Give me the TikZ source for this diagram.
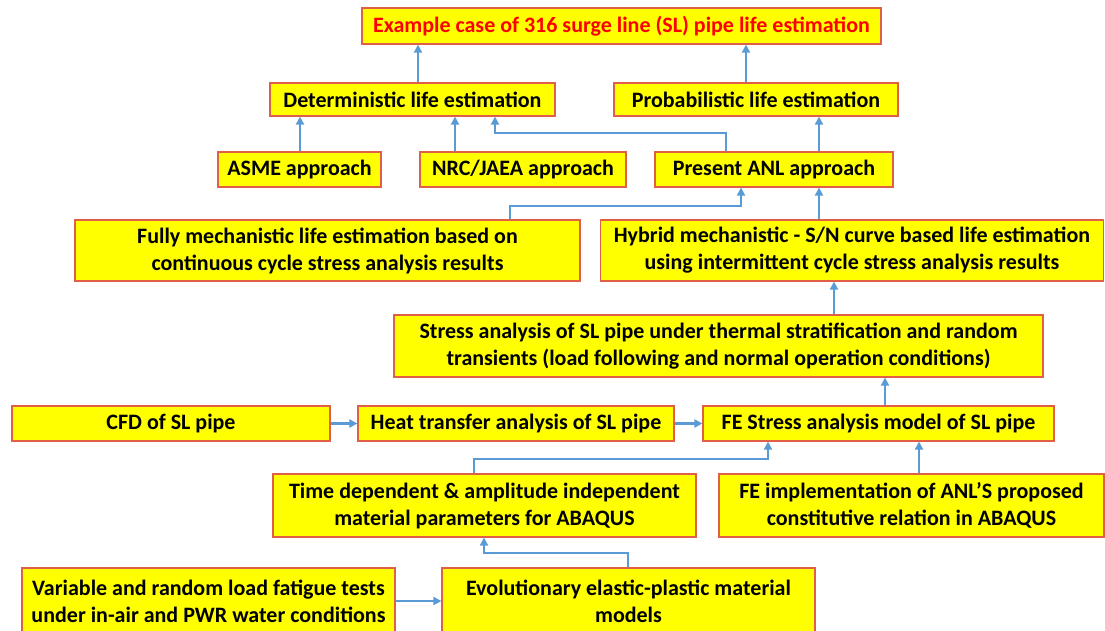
\documentclass[tikz,border=0pt]{standalone}
\usepackage{fontspec}
\setmainfont{Carlito}
\usetikzlibrary{arrows.meta}
\definecolor{boxfill}{RGB}{255,255,0}
\definecolor{boxline}{RGB}{225,95,70}
\definecolor{arrowblue}{RGB}{91,155,213}
\definecolor{titlered}{RGB}{255,0,0}
\tikzset{
  box/.style={draw=boxline, fill=boxfill, line width=1.2pt, inner sep=0pt,
    align=center, font=\bfseries\fontsize{22}{27}\selectfont},
  conn/.style={draw=arrowblue, line width=2.2pt,
    -{Triangle[length=8pt,width=8pt]}},
}
\begin{document}
\begin{tikzpicture}[x=1pt,y=-1pt]
\useasboundingbox (0,0) rectangle (1105,630);
\clip (0,0) rectangle (1105,630);
\node[box, minimum width=519, minimum height=36, text=titlered] (title) at (621.5,26) {Example case of 316 surge line (SL) pipe life estimation};
\node[box, minimum width=285, minimum height=33] (det) at (412.5,99.5) {Deterministic life estimation};
\node[box, minimum width=284, minimum height=33] (prob) at (756,99.5) {Probabilistic life estimation};
\node[box, minimum width=163, minimum height=35] (asme) at (299.5,169.5) {ASME approach};
\node[box, minimum width=206, minimum height=35] (nrc) at (523,169.5) {NRC/JAEA approach};
\node[box, minimum width=238, minimum height=35] (anl) at (774,169.5) {Present ANL approach};
\node[box, minimum width=505, minimum height=61] (fully) at (327.5,250.5) {Fully mechanistic life estimation based on\\continuous cycle stress analysis results};
\node[box, minimum width=503, minimum height=61] (hybrid) at (852,250.5) {Hybrid mechanistic - S/N curve based life estimation\\using intermittent cycle stress analysis results};
\node[box, minimum width=649, minimum height=62] (stress) at (718.5,346) {Stress analysis of SL pipe under thermal stratification and random\\transients (load following and normal operation conditions)};
\node[box, minimum width=318, minimum height=35] (cfd) at (171,423.5) {CFD of SL pipe};
\node[box, minimum width=316, minimum height=35] (heat) at (516,423.5) {Heat transfer analysis of SL pipe};
\node[box, minimum width=351, minimum height=35] (fe) at (878.5,423.5) {FE Stress analysis model of SL pipe};
\node[box, minimum width=423, minimum height=63] (time) at (484.5,505.5) {Time dependent \& amplitude independent\\material parameters for ABAQUS};
\node[box, minimum width=385, minimum height=63] (feimpl) at (911.5,505.5) {FE implementation of ANL'S proposed\\constitutive relation in ABAQUS};
\node[box, minimum width=373, minimum height=66] (var) at (208.5,601) {Variable and random load fatigue tests\\under in-air and PWR water conditions};
\node[box, minimum width=373, minimum height=66] (evo) at (628.5,601) {Evolutionary elastic-plastic material\\models};
% connectors
\draw[conn] (418,0 |- det.north) -- (418,0 |- title.south);
\draw[conn] (746,0 |- prob.north) -- (746,0 |- title.south);
\draw[conn] (300,0 |- asme.north) -- (300,0 |- det.south);
\draw[conn] (455,0 |- nrc.north) -- (455,0 |- det.south);
\draw[conn] (726,0 |- anl.north) -- (726,133) -- (495,133) -- (495,0 |- det.south);
\draw[conn] (819,0 |- anl.north) -- (819,0 |- prob.south);
\draw[conn] (510,0 |- fully.north) -- (510,206) -- (741,206) -- (741,0 |- anl.south);
\draw[conn] (819,0 |- hybrid.north) -- (819,0 |- anl.south);
\draw[conn] (834,0 |- stress.north) -- (834,0 |- hybrid.south);
\draw[conn] (885,0 |- fe.north) -- (885,0 |- stress.south);
\draw[conn] (cfd.east) -- (heat.west);
\draw[conn] (heat.east) -- (fe.west);
\draw[conn] (474,0 |- time.north) -- (474,459) -- (768,459) -- (768,0 |- fe.south);
\draw[conn] (919,0 |- feimpl.north) -- (919,0 |- fe.south);
\draw[conn] (628,0 |- evo.north) -- (628,553) -- (484,553) -- (484,0 |- time.south);
\draw[conn] (var.east) -- (evo.west);
\end{tikzpicture}
\end{document}
